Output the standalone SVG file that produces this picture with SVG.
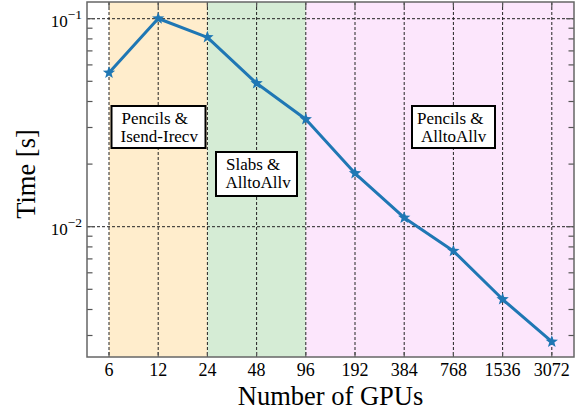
<svg xmlns="http://www.w3.org/2000/svg" width="580" height="412" viewBox="0 0 580 412">
  <style>
    text { font-family: "Liberation Serif", "DejaVu Serif", serif; fill: #000; }
    .tick { font-size: 18px; text-anchor: middle; }
    .ylab { font-size: 17px; text-anchor: end; }
    .axis-title { font-size: 26.5px; text-anchor: middle; }
    .note { font-size: 17px; }
    .grid line { stroke: #222; stroke-width: 1; stroke-dasharray: 3 2; }
    .ticks line { stroke: #555; stroke-width: 1.2; }
    .box { fill: #fff; stroke: #000; stroke-width: 2; }
  </style>
  <defs>
    <path id="star" d="M0,-6.5 L1.59,-2.19 L6.18,-2.01 L2.58,0.84 L3.82,5.26 L0,2.7 L-3.82,5.26 L-2.58,0.84 L-6.18,-2.01 L-1.59,-2.19 Z"/>
    <marker id="m-star" viewBox="-7 -7 14 14" markerWidth="14" markerHeight="14" refX="0" refY="0" markerUnits="userSpaceOnUse" overflow="visible">
      <use href="#star" fill="#1f77b4"/>
    </marker>
  </defs>

  <rect width="580" height="412" fill="#fff"/>

  <!-- shaded regimes -->
  <g id="regions">
    <rect x="109" y="2" width="98.4" height="355" fill="#ffedcc"/>
    <rect x="207.4" y="2" width="98.4" height="355" fill="#d5ecd5"/>
    <rect x="305.8" y="2" width="268.2" height="355" fill="#fce6fc"/>
  </g>

  <!-- grid -->
  <g class="grid">
    <line x1="109" y1="2" x2="109" y2="357"/>
    <line x1="158.2" y1="2" x2="158.2" y2="357"/>
    <line x1="207.4" y1="2" x2="207.4" y2="357"/>
    <line x1="256.6" y1="2" x2="256.6" y2="357"/>
    <line x1="305.8" y1="2" x2="305.8" y2="357"/>
    <line x1="355" y1="2" x2="355" y2="357"/>
    <line x1="404.2" y1="2" x2="404.2" y2="357"/>
    <line x1="453.4" y1="2" x2="453.4" y2="357"/>
    <line x1="502.6" y1="2" x2="502.6" y2="357"/>
    <line x1="551.8" y1="2" x2="551.8" y2="357"/>
    <line x1="87" y1="18.7" x2="574" y2="18.7"/>
    <line x1="87" y1="226.7" x2="574" y2="226.7"/>
  </g>

  <!-- ticks -->
  <g class="ticks">
    <!-- left major / minor -->
    <line x1="87" y1="18.7" x2="95" y2="18.7"/>
    <line x1="87" y1="226.7" x2="95" y2="226.7"/>
    <line x1="87" y1="28.2" x2="92.5" y2="28.2"/>
    <line x1="87" y1="38.9" x2="92.5" y2="38.9"/>
    <line x1="87" y1="50.9" x2="92.5" y2="50.9"/>
    <line x1="87" y1="64.9" x2="92.5" y2="64.9"/>
    <line x1="87" y1="81.3" x2="92.5" y2="81.3"/>
    <line x1="87" y1="101.5" x2="92.5" y2="101.5"/>
    <line x1="87" y1="127.5" x2="92.5" y2="127.5"/>
    <line x1="87" y1="164.1" x2="92.5" y2="164.1"/>
    <line x1="87" y1="236.2" x2="92.5" y2="236.2"/>
    <line x1="87" y1="246.9" x2="92.5" y2="246.9"/>
    <line x1="87" y1="258.9" x2="92.5" y2="258.9"/>
    <line x1="87" y1="272.8" x2="92.5" y2="272.8"/>
    <line x1="87" y1="289.3" x2="92.5" y2="289.3"/>
    <line x1="87" y1="309.5" x2="92.5" y2="309.5"/>
    <line x1="87" y1="335.5" x2="92.5" y2="335.5"/>
    <!-- right major / minor -->
    <line x1="574" y1="18.7" x2="566" y2="18.7"/>
    <line x1="574" y1="226.7" x2="566" y2="226.7"/>
    <line x1="574" y1="28.2" x2="568.5" y2="28.2"/>
    <line x1="574" y1="38.9" x2="568.5" y2="38.9"/>
    <line x1="574" y1="50.9" x2="568.5" y2="50.9"/>
    <line x1="574" y1="64.9" x2="568.5" y2="64.9"/>
    <line x1="574" y1="81.3" x2="568.5" y2="81.3"/>
    <line x1="574" y1="101.5" x2="568.5" y2="101.5"/>
    <line x1="574" y1="127.5" x2="568.5" y2="127.5"/>
    <line x1="574" y1="164.1" x2="568.5" y2="164.1"/>
    <line x1="574" y1="236.2" x2="568.5" y2="236.2"/>
    <line x1="574" y1="246.9" x2="568.5" y2="246.9"/>
    <line x1="574" y1="258.9" x2="568.5" y2="258.9"/>
    <line x1="574" y1="272.8" x2="568.5" y2="272.8"/>
    <line x1="574" y1="289.3" x2="568.5" y2="289.3"/>
    <line x1="574" y1="309.5" x2="568.5" y2="309.5"/>
    <line x1="574" y1="335.5" x2="568.5" y2="335.5"/>
    <!-- top / bottom -->
    <line x1="109" y1="2" x2="109" y2="7"/>
    <line x1="158.2" y1="2" x2="158.2" y2="7"/>
    <line x1="207.4" y1="2" x2="207.4" y2="7"/>
    <line x1="256.6" y1="2" x2="256.6" y2="7"/>
    <line x1="305.8" y1="2" x2="305.8" y2="7"/>
    <line x1="355" y1="2" x2="355" y2="7"/>
    <line x1="404.2" y1="2" x2="404.2" y2="7"/>
    <line x1="453.4" y1="2" x2="453.4" y2="7"/>
    <line x1="502.6" y1="2" x2="502.6" y2="7"/>
    <line x1="551.8" y1="2" x2="551.8" y2="7"/>
    <line x1="109" y1="357" x2="109" y2="352"/>
    <line x1="158.2" y1="357" x2="158.2" y2="352"/>
    <line x1="207.4" y1="357" x2="207.4" y2="352"/>
    <line x1="256.6" y1="357" x2="256.6" y2="352"/>
    <line x1="305.8" y1="357" x2="305.8" y2="352"/>
    <line x1="355" y1="357" x2="355" y2="352"/>
    <line x1="404.2" y1="357" x2="404.2" y2="352"/>
    <line x1="453.4" y1="357" x2="453.4" y2="352"/>
    <line x1="502.6" y1="357" x2="502.6" y2="352"/>
    <line x1="551.8" y1="357" x2="551.8" y2="352"/>
  </g>

  <!-- axes frame -->
  <rect x="87" y="2" width="487" height="355" fill="none" stroke="#666" stroke-width="1.5"/>

  <!-- timing curve -->
  <g id="connectors">
    <polyline fill="none" stroke="#1f77b4" stroke-width="3" stroke-linejoin="round"
      marker-start="url(#m-star)" marker-mid="url(#m-star)" marker-end="url(#m-star)"
      points="109,72.7 158.2,18.5 207.4,37.3 256.6,83.3 305.8,119.3 355,173.3 404.2,217.7 453.4,251 502.6,299.3 551.8,341.7"/>
  </g>

  <!-- regime labels -->
  <g id="label-pencils-isend">
    <rect class="box" x="111.5" y="106" width="94" height="42"/>
    <text class="note" x="121.5" y="124">Pencils &amp;</text>
    <text class="note" x="120.5" y="141.5">Isend-Irecv</text>
  </g>
  <g id="label-slabs-alltoallv">
    <rect class="box" x="216" y="152" width="81" height="44"/>
    <text class="note" x="226" y="170">Slabs &amp;</text>
    <text class="note" x="225.5" y="188">AlltoAllv</text>
  </g>
  <g id="label-pencils-alltoallv">
    <rect class="box" x="412" y="106" width="83" height="42"/>
    <text class="note" x="417" y="124">Pencils &amp;</text>
    <text class="note" x="421" y="141.5">AlltoAllv</text>
  </g>

  <!-- tick labels -->
  <g id="x-tick-labels">
    <text class="tick" x="109" y="376">6</text>
    <text class="tick" x="158.2" y="376">12</text>
    <text class="tick" x="207.4" y="376">24</text>
    <text class="tick" x="256.6" y="376">48</text>
    <text class="tick" x="305.8" y="376">96</text>
    <text class="tick" x="355" y="376">192</text>
    <text class="tick" x="404.2" y="376">384</text>
    <text class="tick" x="453.4" y="376">768</text>
    <text class="tick" x="502.6" y="376">1536</text>
    <text class="tick" x="551.8" y="376">3072</text>
  </g>
  <g id="y-tick-labels">
    <text class="ylab" x="82" y="26.7">10<tspan dy="-7.5" font-size="13.5">−1</tspan></text>
    <text class="ylab" x="82" y="234.7">10<tspan dy="-7.5" font-size="13.5">−2</tspan></text>
  </g>

  <!-- axis titles -->
  <text class="axis-title" x="330.5" y="404.5">Number of GPUs</text>
  <text class="axis-title" transform="translate(35,174) rotate(-90)">Time [s]</text>
</svg>
